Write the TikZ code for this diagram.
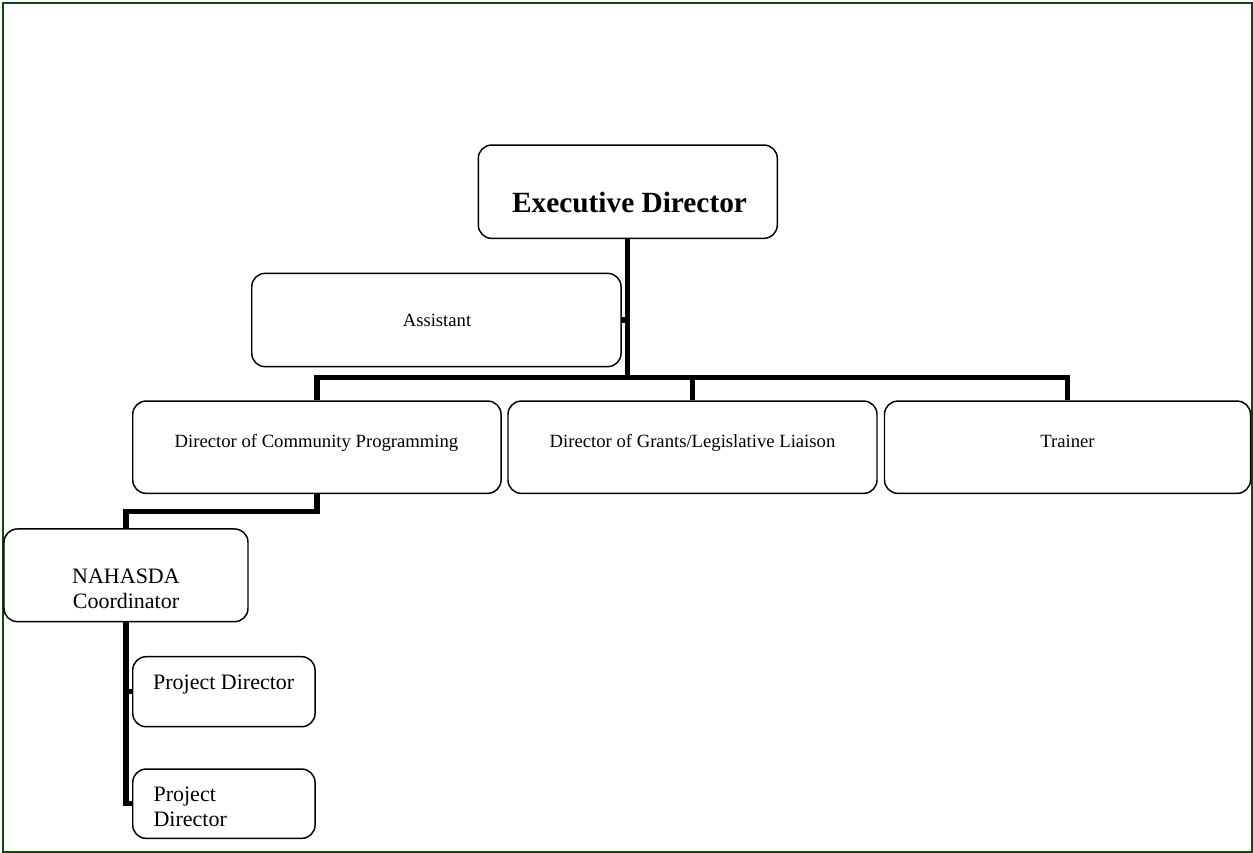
\documentclass[tikz,border=0pt]{standalone}
\usepackage{fontspec}
\setmainfont{Liberation Serif}
\usetikzlibrary{calc}
\definecolor{framegreen}{RGB}{20,70,20}
\begin{document}
\begin{tikzpicture}[x=0.75pt,y=-0.75pt,
  box/.style={draw=black, line width=1.1pt, rounded corners=10pt, inner sep=0pt},
  bsize/.style 2 args={minimum width=#1*0.75pt, minimum height=#2*0.75pt},
  conn/.style={draw=black, line width=3.9pt, line join=miter, line cap=butt},
  lbl/.style={inner sep=0pt, text=black},
  small/.style={font=\fontsize{14}{16.8}\selectfont},
  medium/.style={font=\fontsize{16.5}{18.75}\selectfont},
  big/.style={font=\fontsize{22}{26}\selectfont\bfseries}
  ]
\useasboundingbox (0,0) rectangle (1253,853);
\draw[framegreen, line width=1.5pt] (3,3) rectangle (1252,852);

% boxes
\node[box, bsize={299}{93.3}]  (ed)   at (627.8,191.7) {};
\node[box, bsize={369.3}{93.3}] (asst) at (436.4,320) {};
\node[box, bsize={368.3}{92.3}] (dcp)  at (316.9,447.2) {};
\node[box, bsize={369}{92.3}]   (gr)   at (692.5,447.2) {};
\node[box, bsize={366}{92.3}]   (tr)   at (1067.5,447.2) {};
\node[box, bsize={244}{92.7}]   (nah)  at (126,575.3) {};
\node[box, bsize={182.3}{70}]   (pd1)  at (223.9,691.7) {};
\node[box, bsize={182.3}{69.3}] (pd2)  at (223.9,803.7) {};

% texts
\node[lbl, big, anchor=base]   (edt)   at (629.5,212.7) {Executive Director};
\node[lbl, small, anchor=base] (asstt) at (437,326.7) {Assistant};
\node[lbl, small, anchor=base] (dcpt)  at (316.5,447.7) {Director of Community Programming};
\node[lbl, small, anchor=base] (grt)   at (692.5,447.7) {Director of Grants/Legislative Liaison};
\node[lbl, small, anchor=base] (trt)   at (1067.5,447.7) {Trainer};
\node[lbl, medium, align=center, anchor=center] (naht) at (126,588.5) {NAHASDA\\Coordinator};
\node[lbl, medium, anchor=base] (pd1t)  at (223.7,689) {Project Director};
\node[lbl, medium, align=left, anchor=west] (pd2t) at (153.3,806.5) {Project\\Director};

% connectors
\coordinate (bus) at ($(ed.south)+(0,138.5)$);
\draw[conn] (ed.south) -- (bus);
\draw[conn] (asst.east) -- (asst.east -| ed.south);
\draw[conn] (dcp.north) -- (dcp.north |- bus) -- (tr.north |- bus) -- (tr.north);
\draw[conn] (gr.north |- bus) -- (gr.north);
\draw[conn] (dcp.south) -- ($(dcp.south)+(0,17.5)$) -| (nah.north);
\draw[conn] (nah.south) |- (pd2.west);
\draw[conn] (pd1.west -| nah.south) -- (pd1.west);
\end{tikzpicture}
\end{document}
